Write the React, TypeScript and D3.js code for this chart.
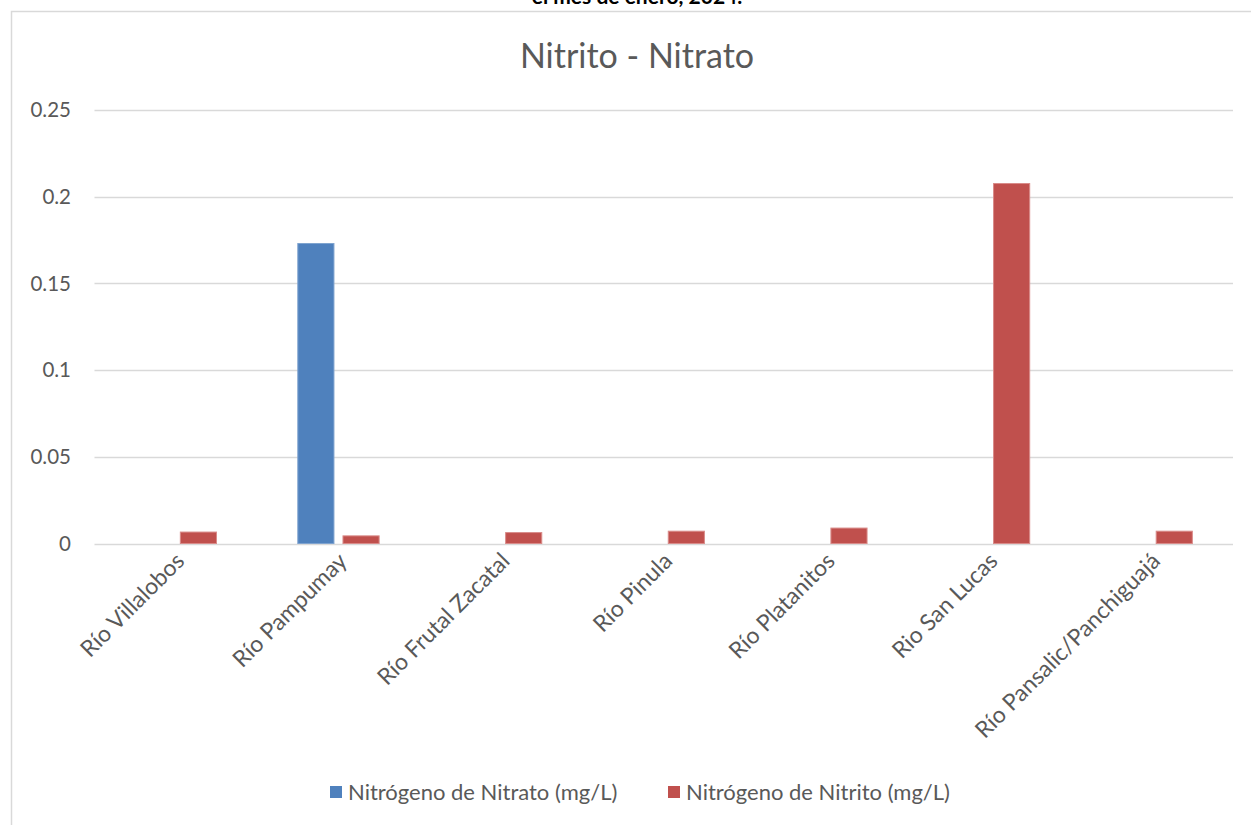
import React, { useEffect, useRef } from 'react';
import * as d3 from 'd3';

// data
const categories = [
  'Río Villalobos',
  'Río Pampumay',
  'Río Frutal Zacatal',
  'Río Pinula',
  'Río Platanitos',
  'Rio San Lucas',
  'Río Pansalic/Panchiguajá',
];
const seriesNames = ['Nitrógeno de Nitrato (mg/L)', 'Nitrógeno de Nitrito (mg/L)'];
const nitrato = [null, 0.173, null, null, null, null, null];
const nitrito = [0.0066, 0.0044, 0.0063, 0.0071, 0.0089, 0.2076, 0.0071];
const yTicks = [0, 0.05, 0.1, 0.15, 0.2, 0.25];

const COLORS = ['#4F81BD', '#C0504D'];
const STROKES = ['#7FA3CF', '#D98B89'];
const FONT = 'Lato, Carlito, "Liberation Sans", sans-serif';
const W = 1251;
const H = 825;

export default function App() {
  const svgRef = useRef<SVGSVGElement>(null);

  useEffect(() => {
    if (!svgRef.current) return;
    const svg = d3.select(svgRef.current);
    svg.selectAll('*').remove();

    const left = 94.5;
    const right = 1233;
    const top = 110;
    const bottom = 543.5;

    // caption of the page above, cut off by the chart's top edge
    svg.append('text')
      .attr('x', 637)
      .attr('y', 4)
      .attr('text-anchor', 'middle')
      .attr('font-family', FONT)
      .attr('font-weight', 'bold')
      .attr('font-size', 21)
      .attr('fill', '#000')
      .text('el mes de enero, 2024.');

    // chart frame
    svg.append('rect')
      .attr('x', 11.5)
      .attr('y', 11.5)
      .attr('width', W + 10)
      .attr('height', H + 10)
      .attr('fill', '#fff')
      .attr('stroke', '#D9D9D9')
      .attr('stroke-width', 1.5);

    svg.append('text')
      .attr('x', 637)
      .attr('y', 68)
      .attr('text-anchor', 'middle')
      .attr('font-family', FONT)
      .attr('font-size', 34)
      .attr('fill', '#595959')
      .text('Nitrito - Nitrato');

    const y = d3.scaleLinear().domain([0, 0.25]).range([bottom, top]);
    const x0 = d3.scaleBand<string>().domain(categories).range([left, right]).padding(0);
    const bw = x0.bandwidth();
    const x1 = d3.scaleBand<string>()
      .domain(seriesNames)
      .range([bw * 0.25, bw * 0.75])
      .paddingInner(0.2)
      .paddingOuter(0);

    // gridlines
    svg.append('g')
      .selectAll('line')
      .data(yTicks)
      .join('line')
      .attr('x1', left)
      .attr('x2', right)
      .attr('y1', d => Math.round(y(d)) + 0.5)
      .attr('y2', d => Math.round(y(d)) + 0.5)
      .attr('stroke', '#D9D9D9')
      .attr('stroke-width', 1.3);

    svg.append('g')
      .selectAll('text')
      .data(yTicks)
      .join('text')
      .attr('x', 71)
      .attr('y', d => y(d))
      .attr('dy', '0.35em')
      .attr('text-anchor', 'end')
      .attr('font-family', FONT)
      .attr('font-size', 20.5)
      .attr('fill', '#595959')
      .text(d => String(d));

    const series = [nitrato, nitrito];
    series.forEach((vals, si) => {
      svg.append('g')
        .selectAll('rect')
        .data(vals.map((v, i) => ({ v, c: categories[i] })).filter(d => d.v != null))
        .join('rect')
        .attr('x', d => (x0(d.c) as number) + (x1(seriesNames[si]) as number))
        .attr('width', x1.bandwidth())
        .attr('y', d => y(d.v as number))
        .attr('height', d => bottom - y(d.v as number))
        .attr('fill', COLORS[si])
        .attr('stroke', STROKES[si])
        .attr('stroke-width', 1);
    });

    // rotated category labels
    svg.append('g')
      .selectAll('text')
      .data(categories)
      .join('text')
      .attr('transform', d => `translate(${(x0(d) as number) + bw / 2 + 10},${bottom + 19}) rotate(-45)`)
      .attr('text-anchor', 'end')
      .attr('font-family', FONT)
      .attr('font-size', 23)
      .attr('fill', '#595959')
      .text(d => d);

    // legend
    const legendX = [330, 668];
    const lg = svg.append('g');
    seriesNames.forEach((name, i) => {
      lg.append('rect')
        .attr('x', legendX[i])
        .attr('y', 786)
        .attr('width', 12)
        .attr('height', 12)
        .attr('fill', COLORS[i]);
      lg.append('text')
        .attr('x', legendX[i] + 18)
        .attr('y', 792)
        .attr('dy', '0.35em')
        .attr('font-family', FONT)
        .attr('font-size', 22)
        .attr('fill', '#595959')
        .text(name);
    });
  }, []);

  return (
    <svg
      ref={svgRef}
      width={W}
      height={H}
      style={{ position: 'absolute', left: 0, top: 0, background: '#fff' }}
    />
  );
}
